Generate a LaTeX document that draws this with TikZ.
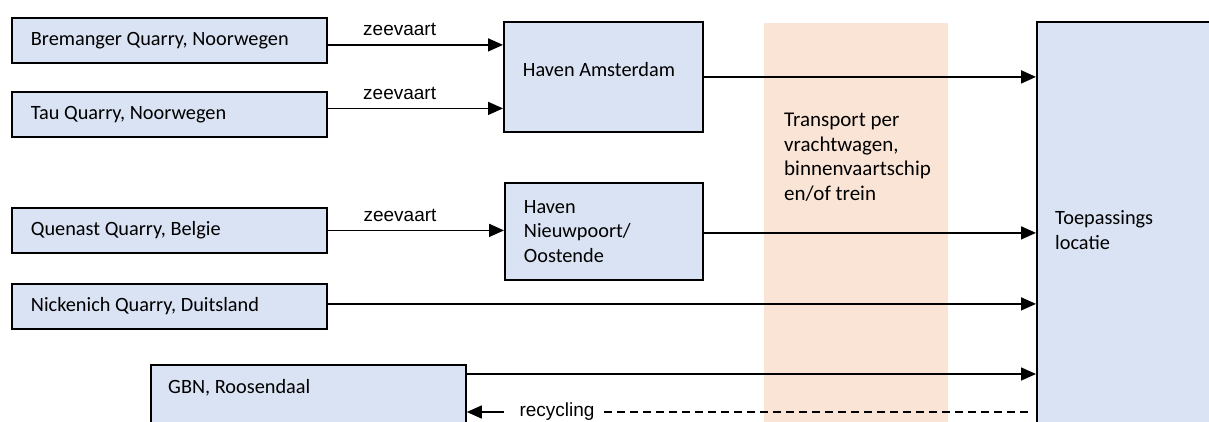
\documentclass[tikz,border=0pt]{standalone}
\usepackage{fontspec}
\newfontfamily\carlito{Carlito}
\newfontfamily\arialf{Liberation Sans}
\usetikzlibrary{arrows.meta,calc}
\definecolor{boxblue}{RGB}{218,227,243}
\definecolor{bandorange}{RGB}{250,228,214}
\begin{document}
\begin{tikzpicture}[x=1pt,y=-1pt,
  box/.style={draw, line width=1.8pt, fill=boxblue, anchor=north west,
    inner xsep=19pt, inner ysep=0pt, align=flush left,
    font=\carlito\fontsize{20.3}{24.5}\selectfont},
  txt/.style={inner sep=0pt, align=flush left,
    font=\carlito\fontsize{20.3}{24.5}\selectfont},
  arr/.style={line width=1.6pt, -{Triangle[length=15pt,width=13pt]}},
  lbl/.style={font=\arialf\fontsize{19}{22}\selectfont, inner sep=1pt},
  bandbox/.style={fill=bandorange, draw=none, anchor=north west, inner sep=0pt}]
\useasboundingbox (0,0) rectangle (1209,421);
\fill[white] (0,0) rectangle (1209,421);
\clip (0,0) rectangle (1209,421);

% transport band
\node[bandbox, minimum width=184pt, minimum height=420pt] (band) at (764,23) {};
\node[txt, anchor=west, font=\carlito\fontsize{21}{24.5}\selectfont] (bandt) at (784,157)
  {Transport per\\vrachtwagen,\\binnenvaartschip\\en/of trein};

% boxes
\node[box, minimum width=315pt, minimum height=45pt, text width=277pt] (brem) at (11,17) {Bremanger Quarry, Noorwegen};
\node[box, minimum width=315pt, minimum height=45pt, text width=277pt] (tau) at (11,91) {Tau Quarry, Noorwegen};
\node[box, minimum width=315pt, minimum height=45pt, text width=277pt] (que) at (11,207) {Quenast Quarry, Belgie};
\node[box, minimum width=315pt, minimum height=45pt, text width=277pt] (nick) at (11,283) {Nickenich Quarry, Duitsland};
\node[box, minimum width=315pt, minimum height=120pt] (gbn) at (150,364) {};
\node[txt, anchor=west] (gbnt) at (168,388) {GBN, Roosendaal};
\node[box, minimum width=199pt, minimum height=110pt, text width=161pt] (ams) at (503,21)
  {\raisebox{7pt}[\height][\depth]{Haven Amsterdam}};
\node[box, minimum width=198pt, minimum height=97pt, text width=160pt] (nieu) at (504,182)
  {Haven\\Nieuwpoort/\\Oostende};
\node[box, minimum width=300pt, minimum height=500pt] (toep) at (1036,21) {};
\node[txt, anchor=west] (toept) at (1055,230) {Toepassings\\locatie};

% connectors
\coordinate (a1) at ([yshift=-4.5pt]brem.east);
\draw[arr] (a1) -- (a1 -| ams.west) node[lbl, pos=0.41, above=7pt] (z1) {zeevaart};
\coordinate (a2) at ([yshift=6pt]tau.east);
\draw[arr] (a2) -- (a2 -| ams.west) node[lbl, pos=0.41, above=7pt] (z2) {zeevaart};
\draw[arr, line width=2pt] (ams.east) -- (ams.east -| toep.west);
\draw[arr] (que.east) -- (que.east -| nieu.west) node[lbl, pos=0.41, above=7pt] (z3) {zeevaart};
\coordinate (a4) at ([yshift=-1.5pt]nieu.east);
\draw[arr] (a4) -- (a4 -| toep.west);
\coordinate (a5) at ([yshift=2.5pt]nick.east);
\draw[arr] (a5) -- (a5 -| toep.west);
\coordinate (a6) at ([yshift=-10pt]gbn.north east);
\draw[arr] (a6) -- (a6 -| toep.west);

% recycling
\node[lbl, inner xsep=3pt] (rec) at (557,412) {recycling};
\draw[arr, line width=1.3pt, shorten <=12pt] (rec.west) -- (rec.west -| gbn.east);
\draw[line width=1.6pt, dash pattern=on 8pt off 5pt, shorten <=8pt, shorten >=2pt]
  (toep.west |- rec.east) -- (rec.east);
\end{tikzpicture}
\end{document}
